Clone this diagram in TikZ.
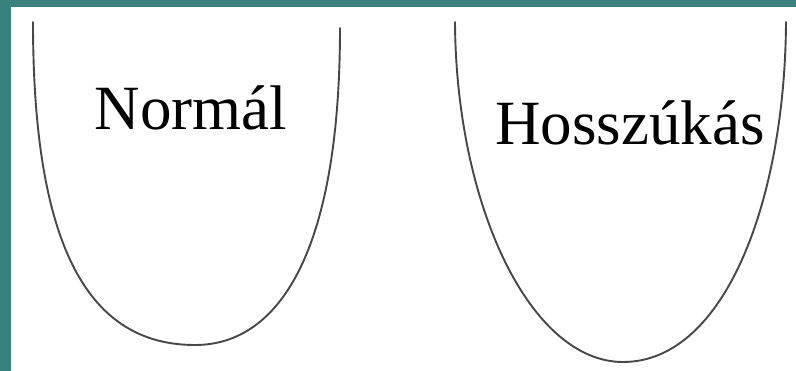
\documentclass[tikz,border=0pt]{standalone}
\usepackage{fontspec}
\setmainfont{Liberation Serif}
\usepackage{xcolor}
\usepackage{tikz}
\usetikzlibrary{positioning}

\definecolor{frameteal}{RGB}{58,128,124}

\begin{document}
\begin{tikzpicture}[
    x=1pt, y=-1pt,
    outline/.style={
        draw=black!72, line width=1.9pt, line cap=round
    },
    caption/.style={
        font=\fontsize{63}{70}\selectfont, anchor=base, inner sep=0pt
    },
    framebar/.style={
        fill=frameteal, draw=none
    }
]

% — Canvas and frame —
\useasboundingbox (0,0) rectangle (796,371);
\fill[white] (0,0) rectangle (796,371);
\fill[framebar] (0,0) rectangle (11,371);
\fill[framebar] (0,0) rectangle (796,7);

% — Normal outline —
\draw[outline] (33,22) .. controls (33,250) and (90,345) .. (195,345)
               .. controls (280,345) and (340,250) .. (340,28);
\node[caption] (normal) at (191,130) {Normál};

% — Elongated outline —
\draw[outline] (455,22) .. controls (456,205) and (530,362) .. (623,362)
               .. controls (725,362) and (785,200) .. (786,22);
\node[caption] (hosszu) at (630,145) {Hosszúkás};

\end{tikzpicture}
\end{document}
